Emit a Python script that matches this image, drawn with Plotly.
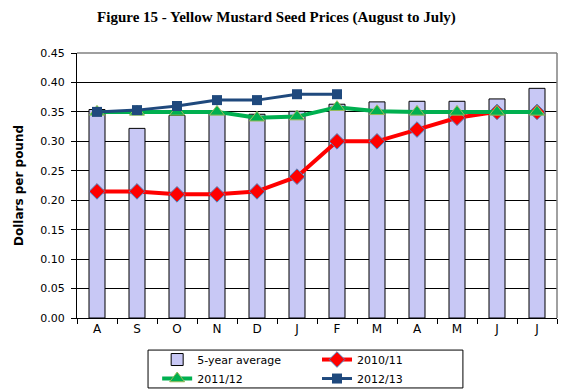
import plotly.graph_objects as go

months = ["Aug", "Sep", "Oct", "Nov", "Dec", "Jan", "Feb", "Mar", "Apr", "May", "Jun", "Jul"]
tick_labels = ["A", "S", "O", "N", "D", "J", "F", "M", "A", "M", "J", "J"]
avg_5yr = [0.354, 0.322, 0.344, 0.350, 0.346, 0.351, 0.363, 0.367, 0.368, 0.368, 0.372, 0.390]
y2010 = [0.215, 0.215, 0.210, 0.210, 0.215, 0.240, 0.300, 0.300, 0.320, 0.340, 0.350, 0.350]
y2011 = [0.350, 0.350, 0.350, 0.350, 0.340, 0.342, 0.358, 0.351, 0.350, 0.350, 0.350, 0.350]
y2012 = [0.350, 0.353, 0.360, 0.370, 0.370, 0.380, 0.380]

font_family = "DejaVu Sans, Verdana, sans-serif"

fig = go.Figure()
fig.add_trace(go.Bar(
    x=months, y=avg_5yr, name="5-year average", legend="legend",
    marker=dict(color="#C8C8F5", line=dict(color="black", width=1)),
    width=0.4,
))
fig.add_trace(go.Scatter(
    x=months, y=y2010, name="2010/11", mode="lines+markers", legend="legend2",
    line=dict(color="#FF0000", width=4),
    marker=dict(symbol="diamond", size=12, color="#FF0000", line=dict(color="#4F81BD", width=1)),
))
fig.add_trace(go.Scatter(
    x=months, y=y2011, name="2011/12", mode="lines+markers", legend="legend",
    line=dict(color="#00B050", width=4),
    marker=dict(symbol="triangle-up", size=13, color="#00B050", line=dict(color="#9BBB59", width=1)),
))
fig.add_trace(go.Scatter(
    x=months[:len(y2012)], y=y2012, name="2012/13", mode="lines+markers", legend="legend2",
    line=dict(color="#1F497D", width=3),
    marker=dict(symbol="square", size=10, color="#1F497D"),
))

legend_common = dict(
    orientation="v", yanchor="top", xanchor="left",
    borderwidth=0, bgcolor="rgba(0,0,0,0)",
    font=dict(family=font_family, size=11, color="black"),
    traceorder="normal", tracegroupgap=0, itemwidth=30,
)

fig.update_layout(
    width=576, height=392,
    margin=dict(l=77, r=19, t=53, b=74, autoexpand=False),
    paper_bgcolor="white", plot_bgcolor="white",
    title=dict(
        text="<b>Figure 15 - Yellow Mustard Seed Prices (August to July)</b>",
        x=0.48, xref="container", xanchor="center", y=0.956, yanchor="middle",
        font=dict(family="Liberation Serif, Times New Roman, serif", size=15, color="black"),
    ),
    font=dict(family=font_family, size=11, color="black"),
    showlegend=True,
    legend=dict(x=0.167, y=-0.102, **legend_common),
    legend2=dict(x=0.50, y=-0.102, **legend_common),
    bargap=0.6,
)
fig.update_xaxes(
    type="category", tickvals=months, ticktext=tick_labels,
    tickson="boundaries", ticks="outside", ticklen=5, tickcolor="black",
    showline=True, linecolor="black", linewidth=1,
    showgrid=False, range=[-0.5, 11.5],
    tickfont=dict(family=font_family, size=12, color="black"),
)
fig.update_yaxes(
    range=[0, 0.45], dtick=0.05, tickformat=".2f",
    ticks="outside", ticklen=5, tickcolor="black", ticklabelstandoff=4,
    showline=True, linecolor="black", linewidth=1,
    showgrid=True, gridcolor="black", gridwidth=1,
    zeroline=False,
    title=dict(text="<b>Dollars per pound</b>", standoff=14,
               font=dict(family=font_family, size=12, color="black")),
    tickfont=dict(family=font_family, size=11, color="black"),
)
# gray top and right border of the plot area
fig.add_shape(type="line", xref="paper", yref="paper", x0=0, x1=1, y0=1, y1=1,
              line=dict(color="#808080", width=1.5), layer="above")
fig.add_shape(type="line", xref="paper", yref="paper", x0=1, x1=1, y0=0, y1=1,
              line=dict(color="#808080", width=1.5), layer="above")
# legend frame
fig.add_shape(type="rect", xref="paper", yref="paper", x0=0.148, x1=0.804, y0=-0.264, y1=-0.121,
              line=dict(color="black", width=1), fillcolor="rgba(0,0,0,0)", layer="above")

fig.write_html(
    "out.html",
    config={"displayModeBar": False},
    post_script="document.body.style.margin='0';document.body.style.overflow='hidden';",
)
